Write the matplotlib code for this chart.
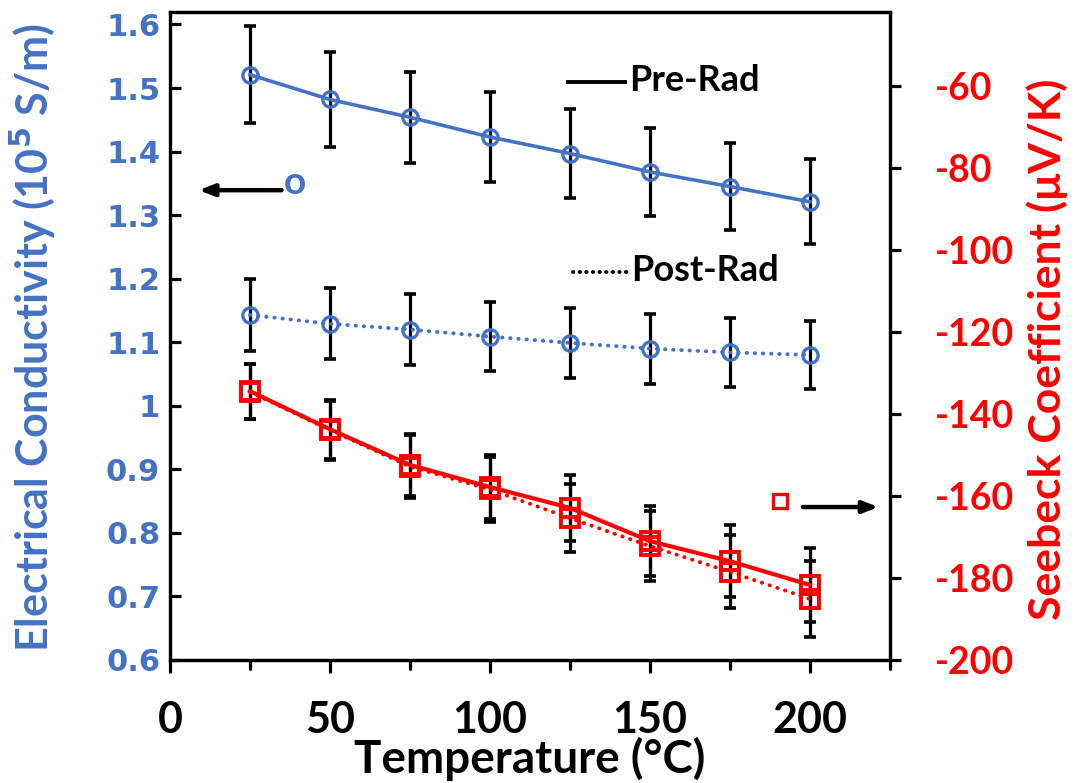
import matplotlib.pyplot as plt
from matplotlib.ticker import FixedLocator, FuncFormatter

BLUE = '#4472C4'
RED = '#FF0000'

# --- data ---
temperature = [25, 50, 75, 100, 125, 150, 175, 200]

sigma_pre = [1.521, 1.482, 1.454, 1.423, 1.397, 1.368, 1.345, 1.321]
sigma_pre_err = [0.076, 0.074, 0.072, 0.071, 0.070, 0.069, 0.068, 0.067]
sigma_post = [1.143, 1.129, 1.120, 1.109, 1.099, 1.090, 1.084, 1.080]
sigma_post_err = [0.057, 0.056, 0.056, 0.055, 0.055, 0.055, 0.054, 0.054]

seebeck_pre = [-134.4, -143.7, -152.4, -157.8, -162.9, -171.0, -175.9, -181.7]
seebeck_pre_err = [6.7, 7.2, 7.6, 7.9, 8.1, 8.6, 8.8, 9.1]
seebeck_post = [-134.6, -143.9, -152.8, -158.4, -165.4, -172.2, -178.5, -185.1]
seebeck_post_err = [6.7, 7.2, 7.6, 7.9, 8.3, 8.6, 8.9, 9.3]

left_ticks = [0.6, 0.7, 0.8, 0.9, 1.0, 1.1, 1.2, 1.3, 1.4, 1.5, 1.6]
right_ticks = [-200, -180, -160, -140, -120, -100, -80, -60]
x_major = [0, 50, 100, 150, 200]
x_minor = [25, 75, 125, 175, 225]

plt.rcParams['font.family'] = ['Lato', 'DejaVu Sans']
plt.rcParams['font.weight'] = 'bold'
plt.rcParams['axes.unicode_minus'] = False

fig = plt.figure(figsize=(10.75, 7.83), dpi=100)
ax = fig.add_axes([0.1581, 0.1571, 0.6698, 0.8276])
ax2 = ax.twinx()

err_kw = dict(fmt='none', ecolor='black', elinewidth=2.3, capsize=4.5, capthick=2.6, zorder=2)
dots = (0, (0.1, 2.0))

# --- conductivity (left axis) ---
ax.errorbar(temperature, sigma_pre, yerr=sigma_pre_err, **err_kw)
ax.errorbar(temperature, sigma_post, yerr=sigma_post_err, **err_kw)
ax.plot(temperature, sigma_pre, color=BLUE, lw=2.6, marker='o', ms=11,
        mfc='none', mec=BLUE, mew=2.4, zorder=3)
ax.plot(temperature, sigma_post, color=BLUE, lw=2.8, ls=dots,
        dash_capstyle='round', marker='o', ms=11, mfc='none', mec=BLUE,
        mew=2.4, zorder=3)

# --- seebeck (right axis) ---
ax2.errorbar(temperature, seebeck_pre, yerr=seebeck_pre_err, **err_kw)
ax2.errorbar(temperature, seebeck_post, yerr=seebeck_post_err, **err_kw)
ax2.plot(temperature, seebeck_post, color=RED, lw=2.8, ls=dots,
         dash_capstyle='round', marker='s', ms=12.5, mfc='none', mec=RED,
         mew=2.8, zorder=3)
ax2.plot(temperature, seebeck_pre, color=RED, lw=3.0, marker='s', ms=12.5,
         mfc='none', mec=RED, mew=2.8, zorder=3)

# --- axes ---
ax.set_xlim(0, 225)
ax.set_ylim(0.6, 1.6197)
ax2.set_ylim(-200, -41.9)

ax.xaxis.set_major_locator(FixedLocator(x_major))
ax.xaxis.set_minor_locator(FixedLocator(x_minor))
ax.yaxis.set_major_locator(FixedLocator(left_ticks))
ax.yaxis.set_major_formatter(FuncFormatter(lambda v, p: f'{v:g}'))
ax2.yaxis.set_major_locator(FixedLocator(right_ticks))

for a in (ax, ax2):
    for s in a.spines.values():
        s.set_linewidth(2.3)
        s.set_color('black')

ax.tick_params(axis='x', which='major', direction='out', length=9, width=2.3,
               pad=20, labelsize=31, colors='black')
ax.tick_params(axis='x', which='minor', direction='out', length=7, width=2.3)
ax.tick_params(axis='y', direction='in', length=8, width=2.3, pad=7,
               labelsize=22, labelcolor=BLUE)
ax2.tick_params(axis='y', direction='out', length=8, width=2.3, pad=24,
                labelsize=27, labelcolor=RED)
for lab in ax.get_yticklabels():
    lab.set_fontfamily('DejaVu Sans')
    lab.set_fontweight('bold')

ax.set_xlabel('Temperature (°C)', fontsize=33, fontweight='bold')
ax.xaxis.set_label_coords(0.5, -0.118)
ax.set_ylabel('Electrical Conductivity (10$^{\\mathbf{5}}$ S/m)', fontsize=31,
              fontweight='bold', color=BLUE)
ax.yaxis.set_label_coords(-0.156, 0.498)
ax2.set_ylabel('Seebeck Coefficient (μV/K)', fontsize=32, fontweight='bold',
               color=RED, rotation=90)
ax2.yaxis.set_label_coords(1.19, 0.48)

# --- in-plot annotations ---
tr = ax.transAxes
ax.plot([0.553, 0.632], [0.892, 0.892], color='black', lw=2.8, transform=tr)
ax.text(0.638, 0.894, 'Pre-Rad', transform=tr, fontsize=26, va='center', ha='left')
ax.plot([0.56, 0.635], [0.599, 0.599], color='black', lw=2.8, ls=(0, (0.1, 1.6)),
        dash_capstyle='round', transform=tr)
ax.text(0.64, 0.601, 'Post-Rad', transform=tr, fontsize=26, va='center', ha='left')

ax.annotate('', xy=(0.040, 0.725), xytext=(0.155, 0.725), xycoords=tr,
            arrowprops=dict(arrowstyle='-|>,head_length=0.9,head_width=0.35',
                            color='black', lw=3.2, shrinkA=0, shrinkB=0))
ax.text(0.174, 0.737, 'o', transform=tr, fontsize=28, color=BLUE,
        va='center', ha='center')

ax.plot([0.847], [0.245], marker='s', ms=10.5, mfc='none', mec=RED, mew=2.4,
        transform=tr, clip_on=False)
ax.annotate('', xy=(0.984, 0.236), xytext=(0.879, 0.236), xycoords=tr,
            arrowprops=dict(arrowstyle='-|>,head_length=0.9,head_width=0.35',
                            color='black', lw=3.2, shrinkA=0, shrinkB=0))

fig.savefig('out.png', dpi=100)
